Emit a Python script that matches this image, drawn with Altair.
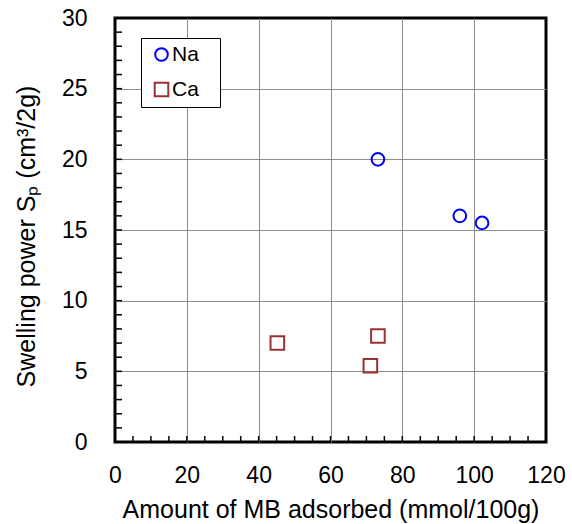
import altair as alt
import pandas as pd

# Measured points: amount of methylene blue adsorbed vs swelling power
na_mb = [73.2, 96.0, 102.2]
na_sp = [20.0, 16.0, 15.5]
ca_mb = [45.2, 73.2, 71.1]
ca_sp = [7.0, 7.5, 5.4]

series_names = ["Na", "Ca"]
series_colors = ["#0000ff", "#993333"]
series_shapes = ["circle", "square"]

x_major = [0, 20, 40, 60, 80, 100, 120]
y_major = [0, 5, 10, 15, 20, 25, 30]
x_minor = list(range(5, 120, 5))
y_minor = list(range(1, 30))

FONT = "Liberation Sans"
W, H = 431, 424

points = pd.DataFrame(
    {
        "mb": na_mb + ca_mb,
        "sp": na_sp + ca_sp,
        "ion": ["Na"] * len(na_mb) + ["Ca"] * len(ca_mb),
    }
)
xticks = pd.DataFrame({"mb": x_minor})
yticks = pd.DataFrame({"sp": y_minor})

x_scale = alt.Scale(domain=[0, 120], nice=False, zero=False)
y_scale = alt.Scale(domain=[0, 30], nice=False, zero=False)

x_axis = alt.Axis(
    values=x_major,
    title="Amount of MB adsorbed (mmol/100g)",
    grid=True,
    gridColor="#8c8c8c",
    gridWidth=1,
    gridOpacity={"condition": {"test": "datum.value == 0 || datum.value == 120", "value": 0}, "value": 1},
    domain=False,
    ticks=False,
    tickSize=0,
    labelFontSize=23,
    labelFont=FONT,
    labelColor="black",
    labelBaseline="alphabetic",
    labelPadding=40,
    labelFlush=False,
    titleFont=FONT,
    titleFontSize=25,
    titleFontWeight="normal",
    titleColor="black",
    titleBaseline="alphabetic",
    titleY=75,
)

y_axis = alt.Axis(
    values=y_major,
    title="Swelling power S\u209a (cm\u00b3/2g)",
    grid=True,
    gridColor="#8c8c8c",
    gridWidth=1,
    gridOpacity={"condition": {"test": "datum.value == 0 || datum.value == 30", "value": 0}, "value": 1},
    domain=False,
    ticks=False,
    tickSize=0,
    labelFontSize=23,
    labelFont=FONT,
    labelColor="black",
    labelPadding=28,
    labelFlush=False,
    titleFont=FONT,
    titleFontSize=25,
    titleFontWeight="normal",
    titleColor="black",
    titleX=-76,
    titleY=218,
)

# Inward minor ticks along the bottom and left edges
x_tick_layer = (
    alt.Chart(xticks)
    .mark_rule(color="black", strokeWidth=1.5)
    .encode(
        x=alt.X("mb:Q", scale=x_scale, axis=x_axis),
        y=alt.value(H),
        y2=alt.value(H - 6),
    )
)
y_tick_layer = (
    alt.Chart(yticks)
    .mark_rule(color="black", strokeWidth=1.5)
    .encode(
        y=alt.Y("sp:Q", scale=y_scale, axis=y_axis),
        x=alt.value(0),
        x2=alt.value(7),
    )
)

# A blank (non-whitespace) glyph after each label widens the legend box
legend_opts = dict(
    title=None,
    orient="none",
    legendX=26,
    legendY=20,
    labelExpr="datum.label + '\u2800'",
)

point_layer = (
    alt.Chart(points)
    .mark_point(filled=False, strokeWidth=2, opacity=1)
    .encode(
        x=alt.X("mb:Q", scale=x_scale, axis=x_axis),
        y=alt.Y("sp:Q", scale=y_scale, axis=y_axis),
        color=alt.Color(
            "ion:N",
            scale=alt.Scale(domain=series_names, range=series_colors),
            legend=alt.Legend(**legend_opts),
        ),
        shape=alt.Shape(
            "ion:N",
            scale=alt.Scale(domain=series_names, range=series_shapes),
            legend=alt.Legend(**legend_opts),
        ),
        size=alt.Size(
            "ion:N",
            scale=alt.Scale(domain=series_names, range=[160, 185]),
            legend=None,
        ),
    )
)

chart = (
    alt.layer(x_tick_layer, y_tick_layer, point_layer)
    .properties(
        width=W,
        height=H,
        autosize=alt.AutoSizeParams(type="none"),
        padding={"left": 115, "top": 18, "right": 26, "bottom": 82},
        background="white",
    )
    .configure_view(stroke="black", strokeWidth=3, fill="white")
    .configure_legend(
        strokeColor="black",
        strokeWidth=1,
        fillColor="white",
        padding=6,
        cornerRadius=0,
        rowPadding=13,
        labelFont=FONT,
        labelFontSize=21,
        labelColor="black",
        labelOffset=0,
        symbolSize=120,
        symbolStrokeWidth=2,
        symbolOffset=4,
        symbolFillColor="transparent",
    )
)

chart.save("out.html", embed_options={"renderer": "svg", "actions": False})
